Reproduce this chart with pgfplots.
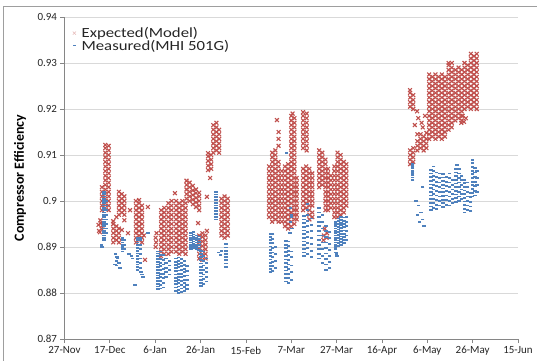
\documentclass[border=0pt]{standalone}
\usepackage{fontspec}
\setmainfont{Carlito}
\newfontfamily\legfont[FakeStretch=1.2]{Carlito}
\usepackage{pgfplots}
\usepackage{pgfplotstable}
\pgfplotsset{compat=1.18}
\definecolor{xred}{HTML}{C0504D}
\definecolor{mblue}{HTML}{4F81BD}
\definecolor{gridc}{HTML}{D9D9D9}
\definecolor{axc}{HTML}{868686}
\definecolor{txt}{HTML}{262626}

% Expected(Model): one row per column of points, x = days after 27-Nov
\pgfplotstableread{
x a b c d e f g h i j k l
16.5 0.898 0.899 0.900 0.901 0.902 0.903 nan nan nan nan nan nan
18.0 0.8985 0.8995 0.9005 0.9015 0.9025 0.9035 0.9045 0.9055 0.9065 0.9075 0.9085 0.9095
19.5 0.898 0.899 0.900 0.901 0.902 0.903 0.904 0.905 0.906 0.907 0.908 0.909
21.5 0.891 0.892 0.893 0.894 0.895 0.8956 nan nan nan nan nan nan
22.9 0.8915 0.8925 0.8935 0.8945 0.8965 nan nan nan nan nan nan nan
24.0 0.891 0.892 0.893 0.894 0.897 0.898 0.899 0.900 0.901 0.902 nan nan
25.3 0.8937 0.8975 0.8985 0.8995 0.9005 0.9015 nan nan nan nan nan nan
26.4 0.8958 0.897 0.898 0.899 0.900 0.901 nan nan nan nan nan nan
31.5 0.891 0.892 0.893 0.894 0.895 0.896 0.897 0.898 0.899 0.900 nan nan
32.9 0.8915 0.8925 0.8935 0.8945 0.8955 0.8965 0.8975 0.8985 0.8995 0.9002 nan nan
34.2 0.891 0.892 0.893 0.894 0.895 0.896 0.897 0.898 0.899 nan nan nan
42.6 0.888 0.889 0.890 0.891 0.892 0.893 0.894 0.895 0.896 0.897 0.898 nan
44.0 0.8885 0.8895 0.8905 0.8915 0.8925 0.8935 0.8945 0.8955 0.8965 0.8975 0.8985 nan
45.8 0.8885 0.8895 0.8905 0.8915 0.8925 0.8935 0.8945 0.8955 0.8965 0.8975 0.8985 0.8995
47.2 0.889 0.890 0.891 0.892 0.893 0.894 0.895 0.896 0.897 0.898 0.899 0.900
49.2 0.889 0.890 0.891 0.892 0.893 0.894 0.895 0.896 0.897 0.898 0.899 0.900
50.6 0.8885 0.8895 0.8905 0.8915 0.8925 0.8935 0.8945 0.8955 0.8965 0.8975 0.8985 0.8995
52.0 0.889 0.890 0.891 0.892 0.893 0.894 0.895 0.896 0.897 0.898 0.899 0.900
53.4 0.8885 0.8895 0.8905 0.8915 0.8925 0.8935 0.8945 0.8955 0.8965 0.8975 0.8985 0.8995
53.8 0.9005 0.9015 0.9025 0.9035 0.9044 nan nan nan nan nan nan nan
55.2 0.900 0.901 0.902 0.903 0.904 nan nan nan nan nan nan nan
56.6 0.8993 0.9003 0.9013 0.9023 0.9033 nan nan nan nan nan nan nan
58.0 0.8987 0.8997 0.9007 0.9017 0.9025 nan nan nan nan nan nan nan
59.4 0.8875 0.8885 0.8895 0.8905 0.8915 0.8925 0.898 0.899 0.900 0.901 0.9018 nan
60.8 0.8872 0.8882 0.8892 0.8902 0.8912 0.8922 0.893 nan nan nan nan nan
62.2 0.8875 0.8885 0.8895 0.8905 0.8915 0.8925 nan nan nan nan nan nan
63.3 0.9067 0.9077 0.9087 0.9097 0.9104 nan nan nan nan nan nan nan
64.7 0.907 0.908 0.909 0.910 nan nan nan nan nan nan nan nan
65.6 0.9105 0.9115 0.9125 0.9135 0.9145 0.9155 0.9165 nan nan nan nan nan
67.0 0.911 0.912 0.913 0.914 0.915 0.916 0.917 nan nan nan nan nan
68.2 0.9105 0.9115 0.9125 0.9135 0.9145 0.9155 nan nan nan nan nan nan
69.2 0.8925 0.8935 0.8945 0.8955 0.8965 0.8975 0.8985 0.8995 0.9005 nan nan nan
70.6 0.892 0.893 0.894 0.895 0.896 0.897 0.898 0.899 0.900 0.901 nan nan
72.0 0.8925 0.8935 0.8945 0.8955 0.8965 0.8975 0.8985 0.8995 0.9005 nan nan nan
90.2 0.8965 0.8975 0.8985 0.8995 0.9005 0.9015 0.9025 0.9035 0.9045 0.9055 0.9065 0.9075
91.6 0.8955 0.8965 0.8975 0.8985 0.8995 0.9005 0.9015 0.9025 0.9035 0.9045 0.9055 0.9065
91.6 0.9075 0.9085 0.9095 0.9105 nan nan nan nan nan nan nan nan
93.0 0.896 0.897 0.898 0.899 0.900 0.901 0.902 0.903 0.904 0.905 0.906 0.907
93.0 0.908 0.909 0.910 0.911 nan nan nan nan nan nan nan nan
94.4 0.8955 0.8965 0.8975 0.8985 0.8995 0.9005 0.9015 0.9025 0.9035 0.9045 0.9055 0.9065
94.4 0.9075 0.9085 0.912 0.9135 0.915 nan nan nan nan nan nan nan
95.8 0.8955 0.8965 0.8975 0.8985 0.8995 0.9005 0.9015 0.9025 0.9035 0.9045 0.9055 0.9065
97.2 0.8945 0.8955 0.8965 0.8975 0.8985 0.8995 0.9005 0.9015 0.9025 0.9035 0.9045 0.9055
97.2 0.9065 0.9075 nan nan nan nan nan nan nan nan nan nan
98.6 0.894 0.895 0.896 0.897 0.898 0.899 0.900 0.901 0.902 0.903 0.904 0.905
98.6 0.906 0.907 0.908 nan nan nan nan nan nan nan nan nan
100.0 0.8945 0.8955 0.8965 0.8975 0.8985 0.8995 0.9005 0.9015 0.9025 0.9035 0.9045 0.9055
100.0 0.9065 0.9075 0.9085 0.9095 0.9105 0.9115 0.9125 0.9135 0.9145 0.9155 0.9165 0.9175
101.4 0.895 0.896 0.897 0.898 0.899 0.900 0.901 0.902 0.903 0.904 0.905 0.906
101.4 0.907 0.908 0.909 0.910 0.911 0.912 0.913 0.914 0.915 0.916 0.917 0.918
102.4 0.896 0.897 0.898 0.899 0.900 0.901 0.902 0.903 0.904 0.905 nan nan
105.2 0.898 0.899 0.900 0.901 0.902 0.903 0.904 0.905 0.906 0.907 nan nan
105.2 0.9115 0.9125 0.9135 0.9145 0.9155 0.9165 0.9175 0.9185 0.9193 nan nan nan
106.8 0.911 0.912 0.913 0.914 0.915 0.916 0.917 0.918 0.919 nan nan nan
106.6 0.8985 0.8995 0.9005 0.9015 0.9025 0.9035 0.9045 0.9055 0.9065 0.9075 nan nan
108.0 0.896 0.897 0.898 0.899 0.900 0.901 0.902 0.903 0.904 0.905 0.906 0.907
109.3 0.8965 0.8975 0.899 0.900 0.901 0.902 0.903 0.904 0.905 0.906 nan nan
112.3 0.903 0.904 0.905 0.906 0.907 0.908 0.909 0.910 0.911 nan nan nan
113.7 0.9035 0.9045 0.9055 0.9065 0.9075 0.9085 0.9095 0.9105 nan nan nan nan
115.1 0.898 0.899 0.900 0.901 0.902 0.903 0.904 0.905 0.906 0.907 0.908 0.909
116.2 0.898 0.899 0.900 0.901 0.902 0.903 0.904 0.905 0.906 0.907 nan nan
117.5 0.8985 0.8995 0.9005 0.9015 0.9025 0.9035 0.9045 0.9055 nan nan nan nan
119.0 0.8965 0.8975 0.8985 0.8995 0.9005 0.9015 0.9025 0.9035 0.9045 0.9055 0.9065 0.9075
120.4 0.8965 0.8975 0.8985 0.8995 0.9005 0.9015 0.9025 0.9035 0.9045 0.9055 0.9065 0.9075
120.4 0.9085 0.9095 0.9105 nan nan nan nan nan nan nan nan nan
121.8 0.897 0.898 0.899 0.900 0.901 0.902 0.903 0.904 0.905 0.906 0.907 0.908
121.8 0.909 0.910 nan nan nan nan nan nan nan nan nan nan
123.2 0.8975 0.8985 0.8995 0.9005 0.9015 0.9025 0.9035 0.9045 0.9055 0.9065 0.9075 0.9085
124.3 0.899 0.900 0.901 0.902 0.903 0.904 0.905 0.906 0.907 0.908 nan nan
152.4 0.908 0.909 0.910 0.911 0.9205 0.9215 0.9225 0.9235 0.9241 nan nan nan
153.8 0.9085 0.9095 0.9105 0.9115 0.920 0.921 0.922 0.923 nan nan nan nan
155.6 0.911 0.912 0.913 0.9145 nan nan nan nan nan nan nan nan
157.0 0.9115 0.9125 0.9135 0.9145 nan nan nan nan nan nan nan nan
158.4 0.911 0.912 0.913 0.914 nan nan nan nan nan nan nan nan
159.6 0.9115 0.9125 0.9135 0.9148 nan nan nan nan nan nan nan nan
160.8 0.9135 0.9145 0.9155 0.9165 0.9175 0.9185 0.9195 0.9205 0.9215 0.9225 0.9235 0.9245
160.8 0.9255 0.9265 0.9275 nan nan nan nan nan nan nan nan nan
162.2 0.914 0.915 0.916 0.917 0.918 0.919 0.920 0.921 0.922 0.923 0.924 0.925
162.2 0.926 0.927 nan nan nan nan nan nan nan nan nan nan
163.6 0.9135 0.9145 0.9155 0.9165 0.9175 0.9185 0.9195 0.9205 0.9215 0.9225 0.9235 0.9245
163.6 0.9255 0.9265 0.9275 nan nan nan nan nan nan nan nan nan
165.0 0.914 0.915 0.916 0.917 0.918 0.919 0.920 0.921 0.922 0.923 0.924 0.925
165.0 0.926 0.927 nan nan nan nan nan nan nan nan nan nan
166.4 0.9135 0.9145 0.9155 0.9165 0.9175 0.9185 0.9195 0.9205 0.9215 0.9225 0.9235 0.9245
166.4 0.9255 0.9265 0.9275 nan nan nan nan nan nan nan nan nan
167.8 0.914 0.915 0.916 0.917 0.918 0.919 0.920 0.921 0.922 0.923 0.924 0.925
167.8 0.926 0.927 nan nan nan nan nan nan nan nan nan nan
169.4 0.9155 0.9165 0.9175 0.9185 0.9195 0.9205 0.9215 0.9225 0.9235 0.9245 0.9255 0.9265
169.4 0.9275 0.9285 0.9295 0.930 nan nan nan nan nan nan nan nan
170.8 0.916 0.917 0.918 0.919 0.920 0.921 0.922 0.923 0.924 0.925 0.926 0.927
170.8 0.928 0.929 0.930 nan nan nan nan nan nan nan nan nan
172.4 0.9175 0.9185 0.9195 0.9205 0.9215 0.9225 0.9235 0.9245 0.9255 0.9265 0.9275 0.9285
173.8 0.918 0.919 0.920 0.921 0.922 0.923 0.924 0.925 0.926 0.927 0.928 0.929
175.2 0.9175 0.9185 0.9195 0.9205 0.9215 0.9225 0.9235 0.9245 0.9255 0.9265 0.9275 0.9285
176.4 0.920 0.921 0.922 0.923 0.924 0.925 0.926 0.927 0.928 0.929 0.930 nan
177.8 0.9205 0.9215 0.9225 0.9235 0.9245 0.9255 0.9265 0.9275 0.9285 0.9295 nan nan
179.2 0.920 0.921 0.922 0.923 0.924 0.925 0.926 0.927 0.928 0.929 0.930 0.931
180.6 0.9205 0.9215 0.9225 0.9235 0.9245 0.9255 0.9265 0.9275 0.9285 0.9295 0.9305 0.9315
181.8 0.920 0.921 0.922 0.923 0.924 0.925 0.926 0.927 0.928 0.929 0.930 0.931
}\redtab

% Measured(MHI 501G)
\pgfplotstableread{
x a b c d e f g h i j k l
17.4 0.8915 0.892 0.8925 0.893 0.8935 0.894 0.8945 0.895 0.8955 0.896 0.8965 0.897
17.4 0.8975 0.898 0.8985 0.899 0.8995 0.900 0.9005 0.901 0.9015 0.902 nan nan
18.4 0.893 0.894 0.895 0.896 0.897 0.898 0.899 0.900 nan nan nan nan
25.6 0.889 0.8895 0.890 0.8905 0.891 0.8915 0.892 nan nan nan nan nan
26.4 0.8895 0.8905 0.8915 nan nan nan nan nan nan nan nan nan
32.3 0.885 0.8856 0.8862 0.8868 0.8874 0.888 0.8886 0.8892 0.8898 0.8904 0.891 0.8916
33.4 0.8855 0.8865 0.8875 0.8885 0.8895 0.8905 0.8915 0.892 nan nan nan nan
41.2 0.8808 0.8814 0.882 0.8826 0.8832 0.8838 0.8844 0.885 0.8856 0.8862 0.8868 0.8874
42.4 0.881 0.8818 0.8826 0.8834 0.8842 0.885 0.8858 0.8866 0.8874 0.8882 0.889 nan
43.6 0.8812 0.8822 0.8832 0.8842 0.8852 0.8862 0.8872 0.8882 nan nan nan nan
44.8 0.8835 0.8845 0.8855 0.8865 0.8875 nan nan nan nan nan nan nan
46.4 0.884 0.885 0.886 0.887 nan nan nan nan nan nan nan nan
49.2 0.8805 0.8812 0.8819 0.8826 0.8833 0.884 0.8847 0.8854 0.8861 0.8868 0.8875 nan
50.4 0.880 0.8807 0.8814 0.8821 0.8828 0.8835 0.8842 0.8849 0.8856 0.8863 0.887 0.8877
51.6 0.8802 0.881 0.8818 0.8826 0.8834 0.8842 0.885 0.8858 0.8866 0.8874 nan nan
52.8 0.8805 0.8813 0.8821 0.8829 0.8837 0.8845 0.8853 0.8861 0.8869 nan nan nan
54.0 0.8808 0.8818 0.8828 0.8838 0.8848 0.8858 nan nan nan nan nan nan
55.8 0.8895 0.890 0.8905 0.891 0.8915 0.892 0.8925 0.893 nan nan nan nan
57.0 0.8897 0.8902 0.8907 0.8912 0.8917 0.8922 0.8927 0.8932 nan nan nan nan
58.2 0.8895 0.890 0.8905 0.891 0.8915 0.892 0.8925 nan nan nan nan nan
59.4 0.8893 0.8899 0.8905 0.8911 0.8917 0.8923 nan nan nan nan nan nan
60.2 0.8815 0.8822 0.8829 0.8836 0.8843 0.885 0.8857 0.8864 0.8871 0.8878 0.8885 0.8892
61.4 0.882 0.883 0.884 0.885 0.886 0.887 0.888 0.889 nan nan nan nan
62.6 0.8825 0.8835 0.8845 0.8855 0.8865 0.8875 nan nan nan nan nan nan
66.8 0.896 0.8966 0.8972 0.8978 0.8984 0.899 0.8996 0.9002 0.9008 0.9014 0.902 nan
71.2 0.8857 0.8864 0.8871 0.8878 0.8885 0.8892 0.8899 0.8906 nan nan nan nan
90.8 0.8845 0.8852 0.8859 0.8866 0.8873 0.888 0.8887 0.8894 0.8901 0.8908 0.8915 0.8922
91.8 0.8848 0.8858 0.8868 0.8878 0.8888 0.8898 0.8908 0.8918 0.8928 nan nan nan
93.0 0.8855 0.887 0.8885 0.890 nan nan nan nan nan nan nan nan
97.6 0.8825 0.8833 0.8841 0.8849 0.8857 0.8865 0.8873 0.8881 0.8889 0.8897 0.8905 0.8913
98.8 0.8822 0.8832 0.8842 0.8852 0.8862 0.8872 0.8882 0.8892 0.8902 0.8912 nan nan
100.2 0.8828 0.8845 0.886 0.8878 0.889 nan nan nan nan nan nan nan
105.6 0.888 0.8888 0.8896 0.8904 0.8912 0.892 0.8928 0.8936 0.8944 0.8952 0.896 0.8968
107.2 0.8885 0.8897 0.8909 0.8921 0.8933 0.8945 0.8957 0.8969 0.8981 0.8993 nan nan
108.8 0.8878 0.8892 0.8906 0.892 0.8934 0.8948 0.8962 nan nan nan nan nan
112.2 0.8875 0.8885 0.8895 0.8905 0.8915 0.8925 0.8935 0.8945 0.8955 0.8965 0.8975 0.8985
113.8 0.8865 0.888 0.8895 0.891 0.8925 0.894 0.8955 0.897 nan nan nan nan
115.4 0.885 0.8862 0.8874 0.8886 0.8898 0.891 0.8922 0.8934 0.8946 nan nan nan
117.0 0.8855 0.8868 0.8881 0.8894 0.8907 0.892 0.8933 nan nan nan nan nan
119.6 0.890 0.8905 0.891 0.8915 0.892 0.8925 0.893 0.8935 0.894 0.8945 0.895 0.8955
120.8 0.8902 0.8908 0.8914 0.892 0.8926 0.8932 0.8938 0.8944 0.895 0.8956 0.8962 nan
122.0 0.8905 0.8911 0.8917 0.8923 0.8929 0.8935 0.8941 0.8947 0.8953 0.8959 0.8965 nan
123.2 0.8908 0.8915 0.8922 0.8929 0.8936 0.8943 0.895 0.8957 0.8964 nan nan nan
124.3 0.8915 0.8925 0.8935 0.8945 0.8955 0.8965 nan nan nan nan nan nan
153.6 0.9046 0.9051 0.9056 0.9061 0.9066 0.9071 0.9076 0.9081 nan nan nan nan
161.6 0.898 0.8988 0.8996 0.9004 0.9012 0.902 0.9028 0.9036 0.9044 0.9052 0.906 0.9068
162.8 0.8985 0.8995 0.9005 0.9015 0.9025 0.9035 0.9045 0.9055 0.9065 0.9075 nan nan
164.0 0.8982 0.8992 0.9002 0.9012 0.9022 0.9032 0.9042 0.9052 0.9062 nan nan nan
165.4 0.899 0.900 0.901 0.902 0.903 0.904 0.905 0.906 nan nan nan nan
167.0 0.8987 0.8995 0.9003 0.9011 0.9019 0.9027 0.9035 0.9043 0.9051 0.9059 nan nan
168.4 0.8992 0.9002 0.9012 0.9022 0.9032 0.9042 0.9052 nan nan nan nan nan
169.8 0.899 0.900 0.901 0.902 0.903 0.904 0.905 0.906 nan nan nan nan
171.2 0.8995 0.9005 0.9015 0.9025 0.9035 0.9045 nan nan nan nan nan nan
172.6 0.8998 0.9006 0.9014 0.9022 0.903 0.9038 0.9046 0.9054 0.9062 0.907 nan nan
174.0 0.900 0.901 0.902 0.903 0.904 0.905 0.906 0.907 nan nan nan nan
175.2 0.9005 0.9015 0.9025 0.9035 0.9045 0.9055 nan nan nan nan nan nan
176.4 0.8975 0.8983 0.8991 0.8999 0.9007 0.9015 0.9023 0.9031 0.9039 0.9046 nan nan
177.8 0.898 0.899 0.900 0.901 0.902 0.903 0.904 nan nan nan nan nan
179.0 0.8978 0.8988 0.8998 0.9008 0.9018 nan nan nan nan nan nan nan
179.8 0.901 0.9018 0.9026 0.9034 0.9042 0.905 0.9058 0.9066 0.9074 0.9082 0.9089 nan
181.0 0.9012 0.9022 0.9032 0.9042 0.9052 0.9062 0.9072 nan nan nan nan nan
182.0 0.902 0.9035 0.905 0.9065 nan nan nan nan nan nan nan nan
}\bluetab

\pgfplotsset{
  redm/.style={only marks, mark=x, mark size=2.7pt, forget plot,
    mark options={draw=xred, line width=1.1pt}},
  bluem/.style={only marks, mark=-, mark size=1.7pt, forget plot,
    mark options={draw=mblue, line width=1.8pt}},
}

\begin{document}
\begin{tikzpicture}
\useasboundingbox (-64.5bp,-22bp) rectangle (472.5bp,339bp);
\fill[white] (-64.5bp,-22bp) rectangle (472.5bp,339bp);
\draw[axc!80, line width=0.8bp] (-61.5bp,-22bp) -- (-61.5bp,333bp) -- (472.5bp,333bp);
\begin{axis}[
  at={(0,0)}, anchor=south west,
  width=453.5bp, height=322bp, scale only axis,
  xmin=0, xmax=200, ymin=0.87, ymax=0.94,
  axis x line*=bottom, axis y line*=left,
  axis line style={axc, line width=0.75bp},
  xtick={0,20,40,60,80,100,120,140,160,180,200},
  xticklabels={27-Nov,17-Dec,6-Jan,26-Jan,15-Feb,7-Mar,27-Mar,16-Apr,6-May,26-May,15-Jun},
  ytick={0.87,0.88,0.89,0.90,0.91,0.92,0.93,0.94},
  yticklabels={0.87,0.88,0.89,0.9,0.91,0.92,0.93,0.94},
  scaled y ticks=false,
  tick align=outside, major tick length=4bp,
  tick style={axc, line width=0.75bp},
  ymajorgrids, grid style={gridc, line width=0.75bp},
  ticklabel style={font=\fontsize{11}{13}\selectfont, text=txt},
  ylabel={Compressor Efficiency},
  ylabel style={font=\bfseries\fontsize{14}{16}\selectfont, text=black,
    at={(axis description cs:-0.098,0.5)}, anchor=center},
  legend style={at={(axis description cs:0.018,0.975)}, anchor=north west,
    draw=none, fill=none, font=\legfont\fontsize{14}{16}\selectfont, text=txt,
    row sep=-3pt, inner sep=0pt},
  legend image code/.code={\draw[#1] plot coordinates {(0.2cm,0cm)}; \path (0.2cm,0cm) ++(5pt,0pt);},
  legend cell align=left,
  filter discard warning=false,
]
\addlegendimage{only marks, mark=x, mark size=2.2pt, mark options={draw=xred!40, line width=0.5pt}}
\addlegendentry{Expected(Model)}
\addlegendimage{only marks, mark=-, mark size=1.5pt, mark options={draw=mblue, line width=1.1pt}}
\addlegendentry{Measured(MHI 501G)}

\pgfplotsinvokeforeach{a,b,c,d,e,f,g,h,i,j,k,l}{
  \addplot[redm] table[x=x, y=#1]{\redtab};
}
\addplot[redm] coordinates {
(18.0,0.9105) (18.0,0.9115) (18.0,0.9122) (19.5,0.910) (19.5,0.911) (19.5,0.912)
(15.2,0.8935) (15.0,0.8948) (15.8,0.8958) (16.3,0.894) (16.8,0.8947) (15.6,0.8932) (16.0,0.8952)
(28.9,0.898) (28.0,0.893) (35.5,0.8872) (36.8,0.8987) (35.0,0.8925)
(40.2,0.890) (40.4,0.891) (40.2,0.892) (40.6,0.893)
(48.7,0.9017) (58.9,0.8952) (62.8,0.9009) (62.8,0.8935) (64.2,0.905)
(114.2,0.8915) (114.4,0.8925) (115.6,0.892) (115.8,0.893) (114.8,0.894)
(93.7,0.9176) (100.0,0.9185) (100.6,0.919)
(154.5,0.9165) (156,0.918) (157.5,0.917) (159,0.9185) (155.5,0.9195) (158,0.916)
(175,0.917) (176.2,0.9172) (177,0.918) (175.6,0.9185)
(179.2,0.932) (181.8,0.932)
};

\pgfplotsinvokeforeach{a,b,c,d,e,f,g,h,i,j,k,l}{
  \addplot[bluem] table[x=x, y=#1]{\bluetab};
}
\addplot[bluem] coordinates {
(16.5,0.890) (16.2,0.8905)
(22.5,0.8885) (23,0.887) (22.8,0.886) (23.5,0.8875) (24,0.8865) (24.4,0.8855) (22.2,0.8862) (23.2,0.8878)
(28.5,0.8885) (29.5,0.888) (30,0.8875)
(33.8,0.8845) (34.6,0.8835) (31.1,0.8817) (36.8,0.893) (34.2,0.884) (32.3,0.892)
(41.2,0.888) (41.2,0.8886) (41.2,0.889)
(68,0.8888) (68.8,0.8882) (69.2,0.8892)
(90.8,0.8929)
(99.6,0.8985) (100.2,0.897) (99.8,0.8955) (100.4,0.894) (99.5,0.893) (100,0.8965)
(119.6,0.8895) (119.8,0.8888) (120.2,0.888) (119.9,0.8885)
(98,0.9104)
(155,0.900) (156,0.899) (157.2,0.8975) (158,0.896) (156.5,0.8955) (158.6,0.8945) (155.6,0.897) (158,0.903)
(173.1,0.9078)
};
\end{axis}
\end{tikzpicture}
\end{document}
